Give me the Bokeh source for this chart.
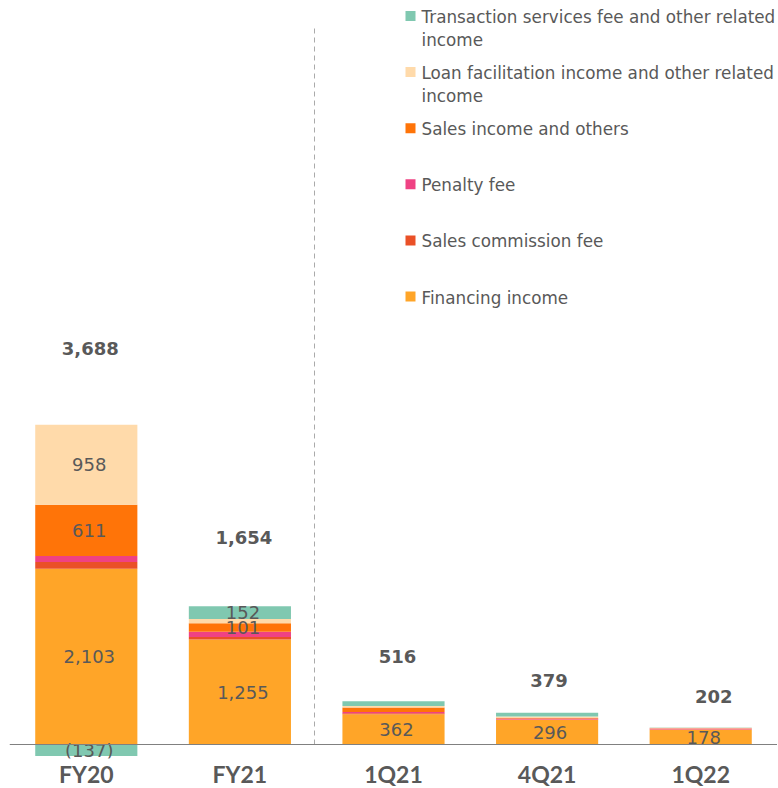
from bokeh.plotting import figure
from bokeh.models import Range1d, Span, FixedTicker
from bokeh.core.properties import value
from bokeh.embed import file_html
from bokeh.resources import INLINE

# ---------------- data ----------------
categories = ["FY20", "FY21", "1Q21", "4Q21", "1Q22"]
financing_income = [2103, 1255, 362, 296, 178]
sales_commission_fee = [80, 32, 12, 4, 2]
penalty_fee = [73, 63, 14, 12, 12]
sales_income_and_others = [611, 101, 55, 6, 2]
loan_facilitation_income = [958, 51, 17, 16, 5]
transaction_services_fee = [-137, 152, 56, 45, 3]
totals = [3688, 1654, 516, 379, 202]

series_names = [
    "Financing income",
    "Sales commission fee",
    "Penalty fee",
    "Sales income and others",
    "Loan facilitation income and other related\nincome",
    "Transaction services fee and other related\nincome",
]
series_values = [
    financing_income,
    sales_commission_fee,
    penalty_fee,
    sales_income_and_others,
    loan_facilitation_income,
    transaction_services_fee,
]
series_colors = ["#FFA528", "#EA5027", "#EF4283", "#FF7408", "#FFDAAA", "#80C8B0"]

# ---------------- layout / style ----------------
FONT = "DejaVu Sans"
CAT_FONT = "Lato"
TXT = "#595959"
PX_PER_UNIT = 0.0836          # vertical pixels per unit
FRAME_W, FRAME_H = 768, 750
BASE_PX = 744                 # page y of the zero line
FRAME_TOP_PX = 8
FRAME_LEFT_PX = 10
CAT_PX = FRAME_W / len(categories)

Y_START = -(FRAME_TOP_PX + FRAME_H - BASE_PX) / PX_PER_UNIT
Y_END = (BASE_PX - FRAME_TOP_PX) / PX_PER_UNIT


def y_of(page_y):
    return (BASE_PX - page_y) / PX_PER_UNIT


def x_of(page_x):
    return -0.5 + (page_x - FRAME_LEFT_PX) / CAT_PX


total_gap_px = [76, 69, 45, 32, 31]
total_dx_px = [4, 4, 4, 2, 13]

p = figure(
    frame_width=FRAME_W,
    frame_height=FRAME_H,
    x_range=Range1d(-0.5, len(categories) - 0.5),
    y_range=Range1d(Y_START, Y_END),
    output_backend="svg",
    toolbar_location=None,
    min_border_left=9,
    min_border_right=0,
    min_border_top=8,
    min_border_bottom=0,
)
p.outline_line_color = None
p.xgrid.visible = False
p.ygrid.visible = False
p.yaxis.visible = False
p.background_fill_color = "white"
p.border_fill_color = "white"

xs = list(range(len(categories)))
pos_base = [0.0] * len(categories)
neg_base = [0.0] * len(categories)
seg_x, seg_y, seg_t = [], [], []

for name, vals, col in zip(series_names, series_values, series_colors):
    bottoms, tops = [], []
    for i, v in enumerate(vals):
        if v >= 0:
            b, t = pos_base[i], pos_base[i] + v
            pos_base[i] = t
        else:
            t, b = neg_base[i], neg_base[i] + v
            neg_base[i] = b
        bottoms.append(b)
        tops.append(t)
        if abs(v) >= 100:
            seg_x.append(i)
            seg_y.append((b + t) / 2)
            seg_t.append(f"({abs(v):,})" if v < 0 else f"{v:,}")
    p.vbar(x=xs, bottom=bottoms, top=tops, width=0.665,
           fill_color=col, line_color=None)

# zero line
p.add_layout(Span(location=0, dimension="width", line_color="#808080", line_width=1.2))

# dashed separator between annual and quarterly figures
p.segment(x0=[x_of(315)], y0=[0], x1=[x_of(315)], y1=[y_of(24)],
          line_color="#AAAAAA", line_width=1, line_dash="5 4")

# segment labels
p.text(x=seg_x, y=seg_y, text=seg_t, text_font=value(FONT), text_font_size="18px",
       text_color=TXT, text_align="center", text_baseline="middle", x_offset=3)

# total labels
tot_x = [i + dx / CAT_PX for i, dx in zip(xs, total_dx_px)]
tot_y = [pos_base[i] + g / PX_PER_UNIT for i, g in enumerate(total_gap_px)]
p.text(x=tot_x, y=tot_y, text=[f"{t:,}" for t in totals], text_font=value(FONT),
       text_font_size="18px", text_font_style="bold", text_color=TXT,
       text_align="center", text_baseline="middle")

# legend (top to bottom: reverse of stacking order)
leg_x_sq = x_of(411)
leg_x_txt = x_of(422)
sq_x, sq_y, sq_c = [], [], []
lt_x, lt_y, lt_t = [], [], []
for k, (name, col) in enumerate(zip(series_names[::-1], series_colors[::-1])):
    y0 = 15.5 + k * 56.1
    sq_x.append(leg_x_sq)
    sq_y.append(y_of(y0))
    sq_c.append(col)
    for j, line in enumerate(name.split("\n")):
        lt_x.append(leg_x_txt)
        lt_y.append(y_of(y0 + 1 + j * 23))
        lt_t.append(line)
p.scatter(x=sq_x, y=sq_y, marker="square", size=10, fill_color=sq_c, line_color=None)
p.text(x=lt_x, y=lt_y, text=lt_t, text_font=value(FONT), text_font_size="16.8px",
       text_color=TXT, text_align="left", text_baseline="middle")

# category axis
p.xaxis.ticker = FixedTicker(ticks=xs)
p.xaxis.major_label_overrides = {i: c for i, c in enumerate(categories)}
p.xaxis.axis_line_color = None
p.xaxis.major_tick_line_color = None
p.xaxis.minor_tick_line_color = None
p.xaxis.major_tick_out = 0
p.xaxis.major_tick_in = 0
p.xaxis.major_label_standoff = 1
p.xaxis.major_label_text_font = CAT_FONT
p.xaxis.major_label_text_font_size = "23px"
p.xaxis.major_label_text_font_style = "bold"
p.xaxis.major_label_text_color = TXT

open("out.html", "w").write(file_html(p, INLINE))
